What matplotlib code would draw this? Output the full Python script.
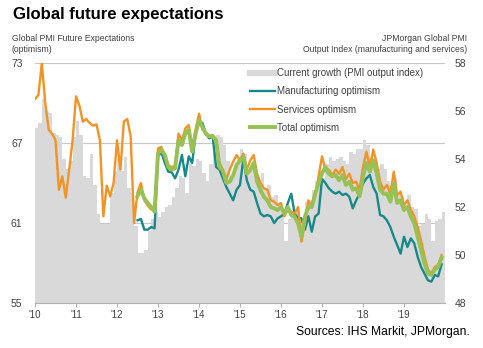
import matplotlib.pyplot as plt
import numpy as np
from matplotlib.lines import Line2D

plt.rcParams['font.family'] = ['Liberation Sans', 'DejaVu Sans']

# monthly data, Jan 2010 - Dec 2019
years = ["'10", "'11", "'12", "'13", "'14", "'15", "'16", "'17", "'18", "'19"]

# current growth, JPMorgan Global PMI output index (right axis)
output_index = [
    55.3, 55.5, 56.5, 56.0, 55.9, 55.1, 55.0, 54.9, 54.0, 53.6, 53.9, 54.9,
    55.6, 55.0, 53.3, 53.2, 54.2, 52.9, 51.7, 51.3, 51.3, 51.3, 52.6, 53.5,
    54.0, 53.5, 54.1, 52.8, 52.6, 51.2, 50.1, 50.1, 50.2, 51.0, 51.5, 51.8,
    51.6, 51.8, 52.0, 52.1, 52.4, 52.8, 53.3, 53.2, 52.6, 53.8, 53.7, 54.0,
    53.9, 53.4, 53.1, 53.8, 54.5, 55.0, 54.9, 54.6, 53.9, 53.2, 53.6, 54.1,
    54.4, 54.2, 53.5, 53.7, 53.4, 53.1, 53.4, 52.8, 52.9, 52.4, 52.5, 52.1,
    51.9, 50.6, 51.5, 51.7, 51.8, 51.6, 51.5, 52.2, 52.3, 52.7, 53.1, 53.5,
    53.2, 53.8, 54.1, 53.9, 54.0, 54.1, 53.9, 53.8, 54.3, 54.2, 54.4, 54.4,
    54.8, 54.6, 54.1, 53.9, 53.6, 53.8, 53.6, 53.1, 52.9, 53.2, 52.6, 52.4,
    52.1, 52.5, 52.0, 51.9, 51.2, 51.3, 51.7, 51.5, 50.6, 51.4, 51.5, 51.8,
]

services = [
    70.3, 70.6, 73.0, 70.0, 68.0, 67.7, 67.2, 63.5, 64.5, 62.9, 65.0, 67.2,
    70.5, 69.8, 68.6, 68.8, 68.5, 68.3, 68.4, 67.2, 61.5, 63.8, 63.0, 64.0,
    67.2, 65.0, 68.6, 68.8, 67.5, 61.0, 63.3, 64.0, 62.7, 62.3, 62.0, 62.2,
    66.6, 66.7, 66.0, 65.3, 65.2, 65.3, 67.7, 67.2, 68.1, 68.35, 66.7, 68.0,
    69.2, 68.0, 67.8, 67.5, 67.6, 67.3, 65.5, 65.0, 64.3, 65.0, 65.6, 66.1,
    65.7, 66.2, 65.0, 65.7, 66.1, 64.7, 64.0, 63.6, 63.5, 62.7, 62.6, 62.35,
    62.5, 61.5, 62.0, 61.85, 61.7, 62.2, 59.6, 61.0, 62.7, 62.2, 63.0, 64.5,
    66.0, 65.0, 65.0, 64.6, 65.0, 64.7, 65.2, 64.3, 64.7, 64.0, 64.1, 63.5,
    65.2, 66.35, 65.2, 66.5, 65.5, 64.1, 63.5, 63.85, 63.2, 64.85, 63.1, 63.35,
    62.35, 62.7, 62.0, 61.5, 60.7, 59.7, 58.5, 57.5, 57.2, 57.7, 57.85, 58.6,
]

# manufacturing and total series start in Jul 2012
manufacturing = [
    61.2, 61.3, 60.5, 60.5, 60.7, 60.6,
    66.0, 66.3, 65.5, 64.85, 64.8, 64.35, 65.0, 66.1, 64.5, 66.0, 65.5, 67.7,
    68.6, 68.5, 67.7, 67.35, 67.5, 65.2, 65.0, 64.35, 63.7, 63.2, 62.7, 63.5,
    63.85, 65.85, 64.2, 63.5, 63.35, 62.5, 61.7, 61.5, 61.6, 61.5, 61.0, 61.35,
    61.5, 61.7, 62.5, 63.2, 61.7, 61.35, 61.35, 60.5, 61.5, 60.35, 61.5, 61.7,
    64.3, 64.0, 63.6, 63.35, 63.2, 63.35, 63.1, 63.2, 62.97, 62.1, 62.7, 63.2,
    63.97, 64.35, 64.6, 63.7, 63.2, 61.6, 61.5, 61.2, 60.7, 59.97, 59.35, 58.7,
    59.97, 59.2, 59.85, 59.47, 58.47, 57.7, 57.2, 56.7, 56.6, 57.1, 57.0, 57.9,
]

total = [
    63.0, 63.5, 62.85, 62.5, 62.2, 61.85,
    66.2, 66.5, 66.1, 65.2, 65.0, 65.1, 67.2, 66.85, 67.7, 68.0, 66.35, 67.7,
    68.7, 68.2, 67.7, 67.5, 67.5, 67.2, 65.2, 64.9, 64.0, 64.1, 64.6, 65.35,
    65.7, 65.97, 64.7, 64.97, 65.5, 64.1, 63.47, 62.97, 62.7, 62.2, 62.1, 61.97,
    62.2, 61.7, 62.2, 61.6, 61.47, 60.97, 59.97, 61.47, 62.2, 62.2, 63.2, 63.97,
    64.7, 65.2, 64.7, 64.5, 64.6, 64.2, 64.6, 63.85, 64.1, 63.5, 63.6, 63.0,
    64.5, 65.5, 64.85, 65.7, 64.7, 63.5, 63.2, 63.2, 62.6, 63.97, 62.5, 62.7,
    61.97, 62.2, 61.5, 60.97, 59.97, 58.97, 57.97, 57.2, 57.1, 57.5, 57.7, 58.4,
]

t_all = 2010 + np.arange(len(services)) / 12
t_late = t_all[len(services) - len(total):]

c_bar = '#d9d9d9'
c_man = '#17898a'
c_ser = '#f39325'
c_tot = '#97c154'
c_txt = '#404040'

fig = plt.figure(figsize=(4.83, 3.48), dpi=100)
ax = fig.add_axes([35 / 483, 1 - 303 / 348, 410 / 483, 240 / 348])
ax2 = ax.twinx()
ax.set_zorder(ax2.get_zorder() + 1)
ax.patch.set_visible(False)

ax2.bar(t_all, np.array(output_index) - 48, bottom=48, width=1 / 12,
        align='edge', color=c_bar, linewidth=0, zorder=2)
ax2.set_ylim(48, 58)
ax2.set_yticks(np.arange(48, 59, 2))

# gridlines behind bars
for v in [73, 67, 61]:
    ax2.axhline(48 + (v - 55) * 10 / 18, color='#c8c8c8', lw=0.8, zorder=0)

ax.plot(t_late, manufacturing, color=c_man, lw=1.7)
ax.plot(t_all, services, color=c_ser, lw=1.7)
ax.plot(t_late, total, color=c_tot, lw=2.8)

ax.set_xlim(2010, 2020)
ax.set_ylim(55, 73)
ax.set_yticks([55, 61, 67, 73])
ax.set_xticks(np.arange(2010, 2020))
ax.set_xticklabels(years)

for a in (ax, ax2):
    for s in a.spines.values():
        s.set_visible(False)
ax.spines['bottom'].set_visible(True)
ax.spines['bottom'].set_color('#b0b0b0')
ax.tick_params(axis='x', length=3, color='#b0b0b0', labelsize=7, labelcolor=c_txt, pad=2)
ax.tick_params(axis='y', length=0, labelsize=7.5, labelcolor=c_txt, pad=9)
ax2.tick_params(axis='y', length=0, labelsize=7.5, labelcolor=c_txt, pad=7)

handles = [Line2D([], [], color=c_bar, lw=4.5),
           Line2D([], [], color=c_man, lw=1.7),
           Line2D([], [], color=c_ser, lw=1.7),
           Line2D([], [], color=c_tot, lw=2.8)]
labels = ['Current growth (PMI output index)', 'Manufacturing optimism',
          'Services optimism', 'Total optimism']
ax.legend(handles, labels, loc='upper left', bbox_to_anchor=(250 / 483, 1 - 68 / 348),
          bbox_transform=fig.transFigure, frameon=False, fontsize=7,
          handlelength=2.6, handletextpad=0.15, labelspacing=0.85,
          borderpad=0, borderaxespad=0, labelcolor=c_txt)

fig.text(13 / 483, 1 - 15 / 348, 'Global future expectations', fontsize=12.1,
         fontweight='bold', va='center', ha='left', color='black')
fig.text(12 / 483, 1 - 34 / 348, 'Global PMI Future Expectations\n(optimism)',
         fontsize=6.2, va='top', ha='left', color=c_txt, linespacing=1.25)
fig.text(467 / 483, 1 - 34 / 348, 'JPMorgan Global PMI\nOutput Index (manufacturing and services)',
         fontsize=6.2, va='top', ha='right', color=c_txt, linespacing=1.25)
fig.text(470 / 483, 1 - 332 / 348, 'Sources: IHS Markit, JPMorgan.', fontsize=8.7,
         va='center', ha='right', color='black')

fig.savefig('out.png', dpi=100)
